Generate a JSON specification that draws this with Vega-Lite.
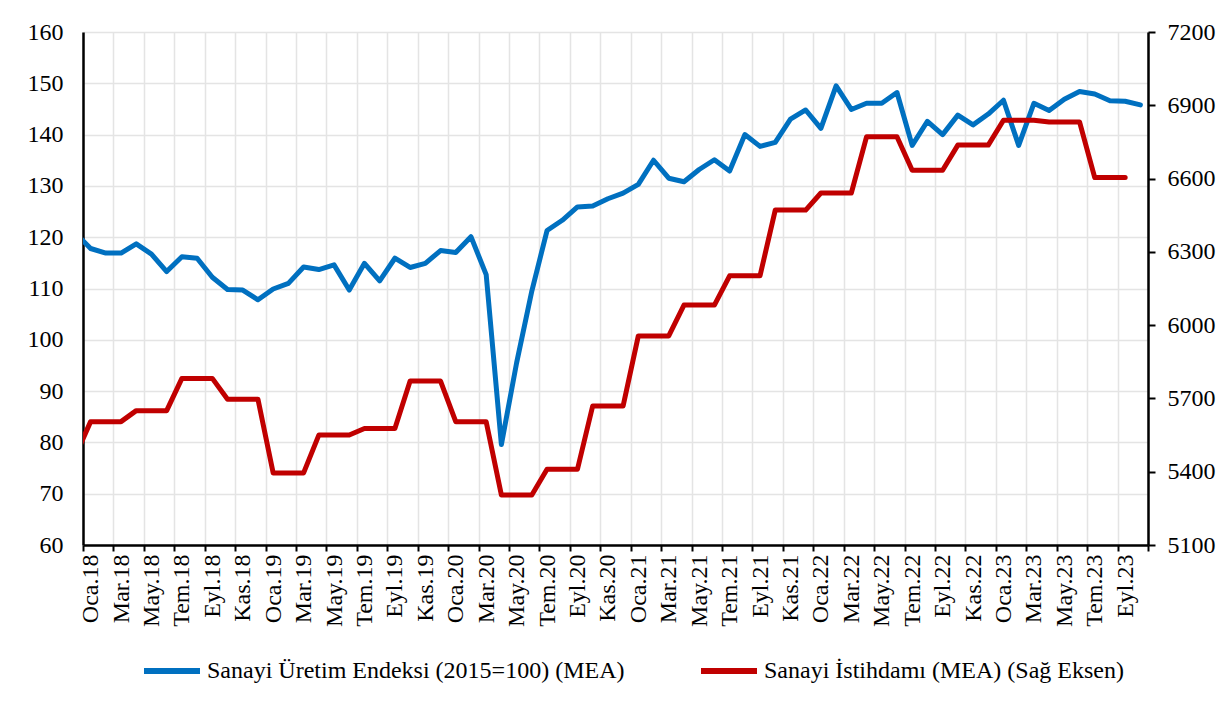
{
  "$schema": "https://vega.github.io/schema/vega-lite/v6.json",
  "autosize": {"type": "none"},
  "padding": {"left": 83, "top": 32, "right": 78, "bottom": 161},
  "width": 1065,
  "height": 513,
  "background": "white",
  "config": {
    "view": {"stroke": null},
    "font": "Liberation Serif",
    "axis": {"labelFont": "Liberation Serif", "labelFontSize": 24, "labelColor": "black", "domainColor": "black", "domainWidth": 2.5, "tickColor": "black", "tickWidth": 2, "gridColor": "#e4e4e4", "gridWidth": 1.5, "title": null},
    "legend": {"labelFont": "Liberation Serif", "labelFontSize": 24, "labelColor": "black"}
  },
  "datasets": {
    "d": [
      {"m": -1, "s": "Sanayi Üretim Endeksi (2015=100) (MEA)", "v": 120.8},
      {"m": 0, "s": "Sanayi Üretim Endeksi (2015=100) (MEA)", "v": 117.8},
      {"m": 1, "s": "Sanayi Üretim Endeksi (2015=100) (MEA)", "v": 116.9},
      {"m": 2, "s": "Sanayi Üretim Endeksi (2015=100) (MEA)", "v": 116.9},
      {"m": 3, "s": "Sanayi Üretim Endeksi (2015=100) (MEA)", "v": 118.7},
      {"m": 4, "s": "Sanayi Üretim Endeksi (2015=100) (MEA)", "v": 116.7},
      {"m": 5, "s": "Sanayi Üretim Endeksi (2015=100) (MEA)", "v": 113.3},
      {"m": 6, "s": "Sanayi Üretim Endeksi (2015=100) (MEA)", "v": 116.2},
      {"m": 7, "s": "Sanayi Üretim Endeksi (2015=100) (MEA)", "v": 115.9},
      {"m": 8, "s": "Sanayi Üretim Endeksi (2015=100) (MEA)", "v": 112.2},
      {"m": 9, "s": "Sanayi Üretim Endeksi (2015=100) (MEA)", "v": 109.8},
      {"m": 10, "s": "Sanayi Üretim Endeksi (2015=100) (MEA)", "v": 109.7},
      {"m": 11, "s": "Sanayi Üretim Endeksi (2015=100) (MEA)", "v": 107.8},
      {"m": 12, "s": "Sanayi Üretim Endeksi (2015=100) (MEA)", "v": 109.9},
      {"m": 13, "s": "Sanayi Üretim Endeksi (2015=100) (MEA)", "v": 111.0},
      {"m": 14, "s": "Sanayi Üretim Endeksi (2015=100) (MEA)", "v": 114.2},
      {"m": 15, "s": "Sanayi Üretim Endeksi (2015=100) (MEA)", "v": 113.7},
      {"m": 16, "s": "Sanayi Üretim Endeksi (2015=100) (MEA)", "v": 114.6},
      {"m": 17, "s": "Sanayi Üretim Endeksi (2015=100) (MEA)", "v": 109.7},
      {"m": 18, "s": "Sanayi Üretim Endeksi (2015=100) (MEA)", "v": 114.9},
      {"m": 19, "s": "Sanayi Üretim Endeksi (2015=100) (MEA)", "v": 111.5},
      {"m": 20, "s": "Sanayi Üretim Endeksi (2015=100) (MEA)", "v": 115.9},
      {"m": 21, "s": "Sanayi Üretim Endeksi (2015=100) (MEA)", "v": 114.1},
      {"m": 22, "s": "Sanayi Üretim Endeksi (2015=100) (MEA)", "v": 114.9},
      {"m": 23, "s": "Sanayi Üretim Endeksi (2015=100) (MEA)", "v": 117.4},
      {"m": 24, "s": "Sanayi Üretim Endeksi (2015=100) (MEA)", "v": 117.0},
      {"m": 25, "s": "Sanayi Üretim Endeksi (2015=100) (MEA)", "v": 120.1},
      {"m": 26, "s": "Sanayi Üretim Endeksi (2015=100) (MEA)", "v": 112.7},
      {"m": 27, "s": "Sanayi Üretim Endeksi (2015=100) (MEA)", "v": 79.6},
      {"m": 28, "s": "Sanayi Üretim Endeksi (2015=100) (MEA)", "v": 95.5},
      {"m": 29, "s": "Sanayi Üretim Endeksi (2015=100) (MEA)", "v": 109.5},
      {"m": 30, "s": "Sanayi Üretim Endeksi (2015=100) (MEA)", "v": 121.3},
      {"m": 31, "s": "Sanayi Üretim Endeksi (2015=100) (MEA)", "v": 123.3},
      {"m": 32, "s": "Sanayi Üretim Endeksi (2015=100) (MEA)", "v": 125.9},
      {"m": 33, "s": "Sanayi Üretim Endeksi (2015=100) (MEA)", "v": 126.1},
      {"m": 34, "s": "Sanayi Üretim Endeksi (2015=100) (MEA)", "v": 127.5},
      {"m": 35, "s": "Sanayi Üretim Endeksi (2015=100) (MEA)", "v": 128.6},
      {"m": 36, "s": "Sanayi Üretim Endeksi (2015=100) (MEA)", "v": 130.3},
      {"m": 37, "s": "Sanayi Üretim Endeksi (2015=100) (MEA)", "v": 135.0},
      {"m": 38, "s": "Sanayi Üretim Endeksi (2015=100) (MEA)", "v": 131.5},
      {"m": 39, "s": "Sanayi Üretim Endeksi (2015=100) (MEA)", "v": 130.8},
      {"m": 40, "s": "Sanayi Üretim Endeksi (2015=100) (MEA)", "v": 133.2},
      {"m": 41, "s": "Sanayi Üretim Endeksi (2015=100) (MEA)", "v": 135.1},
      {"m": 42, "s": "Sanayi Üretim Endeksi (2015=100) (MEA)", "v": 132.9},
      {"m": 43, "s": "Sanayi Üretim Endeksi (2015=100) (MEA)", "v": 140.0},
      {"m": 44, "s": "Sanayi Üretim Endeksi (2015=100) (MEA)", "v": 137.7},
      {"m": 45, "s": "Sanayi Üretim Endeksi (2015=100) (MEA)", "v": 138.5},
      {"m": 46, "s": "Sanayi Üretim Endeksi (2015=100) (MEA)", "v": 143.0},
      {"m": 47, "s": "Sanayi Üretim Endeksi (2015=100) (MEA)", "v": 144.8},
      {"m": 48, "s": "Sanayi Üretim Endeksi (2015=100) (MEA)", "v": 141.2},
      {"m": 49, "s": "Sanayi Üretim Endeksi (2015=100) (MEA)", "v": 149.5},
      {"m": 50, "s": "Sanayi Üretim Endeksi (2015=100) (MEA)", "v": 144.9},
      {"m": 51, "s": "Sanayi Üretim Endeksi (2015=100) (MEA)", "v": 146.1},
      {"m": 52, "s": "Sanayi Üretim Endeksi (2015=100) (MEA)", "v": 146.1},
      {"m": 53, "s": "Sanayi Üretim Endeksi (2015=100) (MEA)", "v": 148.2},
      {"m": 54, "s": "Sanayi Üretim Endeksi (2015=100) (MEA)", "v": 137.9},
      {"m": 55, "s": "Sanayi Üretim Endeksi (2015=100) (MEA)", "v": 142.6},
      {"m": 56, "s": "Sanayi Üretim Endeksi (2015=100) (MEA)", "v": 140.0},
      {"m": 57, "s": "Sanayi Üretim Endeksi (2015=100) (MEA)", "v": 143.8},
      {"m": 58, "s": "Sanayi Üretim Endeksi (2015=100) (MEA)", "v": 141.9},
      {"m": 59, "s": "Sanayi Üretim Endeksi (2015=100) (MEA)", "v": 144.0},
      {"m": 60, "s": "Sanayi Üretim Endeksi (2015=100) (MEA)", "v": 146.7},
      {"m": 61, "s": "Sanayi Üretim Endeksi (2015=100) (MEA)", "v": 137.9},
      {"m": 62, "s": "Sanayi Üretim Endeksi (2015=100) (MEA)", "v": 146.1},
      {"m": 63, "s": "Sanayi Üretim Endeksi (2015=100) (MEA)", "v": 144.7},
      {"m": 64, "s": "Sanayi Üretim Endeksi (2015=100) (MEA)", "v": 146.9},
      {"m": 65, "s": "Sanayi Üretim Endeksi (2015=100) (MEA)", "v": 148.4},
      {"m": 66, "s": "Sanayi Üretim Endeksi (2015=100) (MEA)", "v": 147.9},
      {"m": 67, "s": "Sanayi Üretim Endeksi (2015=100) (MEA)", "v": 146.6},
      {"m": 68, "s": "Sanayi Üretim Endeksi (2015=100) (MEA)", "v": 146.5},
      {"m": 69, "s": "Sanayi Üretim Endeksi (2015=100) (MEA)", "v": 145.8},
      {"m": -1, "s": "Sanayi İstihdamı (MEA) (Sağ Eksen)", "v": 5465},
      {"m": 0, "s": "Sanayi İstihdamı (MEA) (Sağ Eksen)", "v": 5605},
      {"m": 1, "s": "Sanayi İstihdamı (MEA) (Sağ Eksen)", "v": 5605},
      {"m": 2, "s": "Sanayi İstihdamı (MEA) (Sağ Eksen)", "v": 5605},
      {"m": 3, "s": "Sanayi İstihdamı (MEA) (Sağ Eksen)", "v": 5650},
      {"m": 4, "s": "Sanayi İstihdamı (MEA) (Sağ Eksen)", "v": 5650},
      {"m": 5, "s": "Sanayi İstihdamı (MEA) (Sağ Eksen)", "v": 5650},
      {"m": 6, "s": "Sanayi İstihdamı (MEA) (Sağ Eksen)", "v": 5782},
      {"m": 7, "s": "Sanayi İstihdamı (MEA) (Sağ Eksen)", "v": 5782},
      {"m": 8, "s": "Sanayi İstihdamı (MEA) (Sağ Eksen)", "v": 5782},
      {"m": 9, "s": "Sanayi İstihdamı (MEA) (Sağ Eksen)", "v": 5697},
      {"m": 10, "s": "Sanayi İstihdamı (MEA) (Sağ Eksen)", "v": 5697},
      {"m": 11, "s": "Sanayi İstihdamı (MEA) (Sağ Eksen)", "v": 5697},
      {"m": 12, "s": "Sanayi İstihdamı (MEA) (Sağ Eksen)", "v": 5395},
      {"m": 13, "s": "Sanayi İstihdamı (MEA) (Sağ Eksen)", "v": 5395},
      {"m": 14, "s": "Sanayi İstihdamı (MEA) (Sağ Eksen)", "v": 5395},
      {"m": 15, "s": "Sanayi İstihdamı (MEA) (Sağ Eksen)", "v": 5550},
      {"m": 16, "s": "Sanayi İstihdamı (MEA) (Sağ Eksen)", "v": 5550},
      {"m": 17, "s": "Sanayi İstihdamı (MEA) (Sağ Eksen)", "v": 5550},
      {"m": 18, "s": "Sanayi İstihdamı (MEA) (Sağ Eksen)", "v": 5577},
      {"m": 19, "s": "Sanayi İstihdamı (MEA) (Sağ Eksen)", "v": 5577},
      {"m": 20, "s": "Sanayi İstihdamı (MEA) (Sağ Eksen)", "v": 5577},
      {"m": 21, "s": "Sanayi İstihdamı (MEA) (Sağ Eksen)", "v": 5771},
      {"m": 22, "s": "Sanayi İstihdamı (MEA) (Sağ Eksen)", "v": 5771},
      {"m": 23, "s": "Sanayi İstihdamı (MEA) (Sağ Eksen)", "v": 5771},
      {"m": 24, "s": "Sanayi İstihdamı (MEA) (Sağ Eksen)", "v": 5605},
      {"m": 25, "s": "Sanayi İstihdamı (MEA) (Sağ Eksen)", "v": 5605},
      {"m": 26, "s": "Sanayi İstihdamı (MEA) (Sağ Eksen)", "v": 5605},
      {"m": 27, "s": "Sanayi İstihdamı (MEA) (Sağ Eksen)", "v": 5305},
      {"m": 28, "s": "Sanayi İstihdamı (MEA) (Sağ Eksen)", "v": 5305},
      {"m": 29, "s": "Sanayi İstihdamı (MEA) (Sağ Eksen)", "v": 5305},
      {"m": 30, "s": "Sanayi İstihdamı (MEA) (Sağ Eksen)", "v": 5410},
      {"m": 31, "s": "Sanayi İstihdamı (MEA) (Sağ Eksen)", "v": 5410},
      {"m": 32, "s": "Sanayi İstihdamı (MEA) (Sağ Eksen)", "v": 5410},
      {"m": 33, "s": "Sanayi İstihdamı (MEA) (Sağ Eksen)", "v": 5669},
      {"m": 34, "s": "Sanayi İstihdamı (MEA) (Sağ Eksen)", "v": 5669},
      {"m": 35, "s": "Sanayi İstihdamı (MEA) (Sağ Eksen)", "v": 5669},
      {"m": 36, "s": "Sanayi İstihdamı (MEA) (Sağ Eksen)", "v": 5956},
      {"m": 37, "s": "Sanayi İstihdamı (MEA) (Sağ Eksen)", "v": 5956},
      {"m": 38, "s": "Sanayi İstihdamı (MEA) (Sağ Eksen)", "v": 5956},
      {"m": 39, "s": "Sanayi İstihdamı (MEA) (Sağ Eksen)", "v": 6082},
      {"m": 40, "s": "Sanayi İstihdamı (MEA) (Sağ Eksen)", "v": 6082},
      {"m": 41, "s": "Sanayi İstihdamı (MEA) (Sağ Eksen)", "v": 6082},
      {"m": 42, "s": "Sanayi İstihdamı (MEA) (Sağ Eksen)", "v": 6202},
      {"m": 43, "s": "Sanayi İstihdamı (MEA) (Sağ Eksen)", "v": 6202},
      {"m": 44, "s": "Sanayi İstihdamı (MEA) (Sağ Eksen)", "v": 6202},
      {"m": 45, "s": "Sanayi İstihdamı (MEA) (Sağ Eksen)", "v": 6471},
      {"m": 46, "s": "Sanayi İstihdamı (MEA) (Sağ Eksen)", "v": 6471},
      {"m": 47, "s": "Sanayi İstihdamı (MEA) (Sağ Eksen)", "v": 6471},
      {"m": 48, "s": "Sanayi İstihdamı (MEA) (Sağ Eksen)", "v": 6541},
      {"m": 49, "s": "Sanayi İstihdamı (MEA) (Sağ Eksen)", "v": 6541},
      {"m": 50, "s": "Sanayi İstihdamı (MEA) (Sağ Eksen)", "v": 6541},
      {"m": 51, "s": "Sanayi İstihdamı (MEA) (Sağ Eksen)", "v": 6771},
      {"m": 52, "s": "Sanayi İstihdamı (MEA) (Sağ Eksen)", "v": 6771},
      {"m": 53, "s": "Sanayi İstihdamı (MEA) (Sağ Eksen)", "v": 6771},
      {"m": 54, "s": "Sanayi İstihdamı (MEA) (Sağ Eksen)", "v": 6634},
      {"m": 55, "s": "Sanayi İstihdamı (MEA) (Sağ Eksen)", "v": 6634},
      {"m": 56, "s": "Sanayi İstihdamı (MEA) (Sağ Eksen)", "v": 6634},
      {"m": 57, "s": "Sanayi İstihdamı (MEA) (Sağ Eksen)", "v": 6737},
      {"m": 58, "s": "Sanayi İstihdamı (MEA) (Sağ Eksen)", "v": 6737},
      {"m": 59, "s": "Sanayi İstihdamı (MEA) (Sağ Eksen)", "v": 6737},
      {"m": 60, "s": "Sanayi İstihdamı (MEA) (Sağ Eksen)", "v": 6839},
      {"m": 61, "s": "Sanayi İstihdamı (MEA) (Sağ Eksen)", "v": 6839},
      {"m": 62, "s": "Sanayi İstihdamı (MEA) (Sağ Eksen)", "v": 6839},
      {"m": 63, "s": "Sanayi İstihdamı (MEA) (Sağ Eksen)", "v": 6832},
      {"m": 64, "s": "Sanayi İstihdamı (MEA) (Sağ Eksen)", "v": 6832},
      {"m": 65, "s": "Sanayi İstihdamı (MEA) (Sağ Eksen)", "v": 6832},
      {"m": 66, "s": "Sanayi İstihdamı (MEA) (Sağ Eksen)", "v": 6604},
      {"m": 67, "s": "Sanayi İstihdamı (MEA) (Sağ Eksen)", "v": 6604},
      {"m": 68, "s": "Sanayi İstihdamı (MEA) (Sağ Eksen)", "v": 6604}
    ]
  },
  "data": {"name": "d"},
  "encoding": {
    "x": {
      "field": "m", "type": "quantitative",
      "scale": {"domain": [-0.5, 69.5], "nice": false, "zero": false},
      "axis": {
        "values": [-0.5, 1.5, 3.5, 5.5, 7.5, 9.5, 11.5, 13.5, 15.5, 17.5, 19.5, 21.5, 23.5, 25.5, 27.5, 29.5, 31.5, 33.5, 35.5, 37.5, 39.5, 41.5, 43.5, 45.5, 47.5, 49.5, 51.5, 53.5, 55.5, 57.5, 59.5, 61.5, 63.5, 65.5, 67.5, 69.5],
        "labelExpr": "datum.value > 68 ? '' : ['Oca','Şub','Mar','Nis','May','Haz','Tem','Ağu','Eyl','Eki','Kas','Ara'][(datum.value + 0.5) % 12] + '.' + (18 + floor((datum.value + 0.5) / 12))",
        "labelAngle": -90,
        "labelOffset": 7.6,
        "labelPadding": 3,
        "labelOverlap": false,
        "labelFlush": false,
        "labelBound": false,
        "tickSize": 6,
        "grid": true
      }
    },
    "color": {
      "field": "s", "type": "nominal",
      "scale": {"domain": ["Sanayi Üretim Endeksi (2015=100) (MEA)", "Sanayi İstihdamı (MEA) (Sağ Eksen)"], "range": ["#0070C0", "#C00000"]},
      "legend": {
        "title": null,
        "orient": "none",
        "direction": "horizontal",
        "legendX": 58,
        "legendY": 608,
        "symbolType": "stroke",
        "symbolSize": 3136,
        "symbolStrokeWidth": 6,
        "labelOffset": 4,
        "columnPadding": 64,
        "labelLimit": 600,
        "labelFont": "Liberation Serif",
        "labelFontSize": 24,
        "labelColor": "black",
        "encode": {"labels": {"update": {"font": {"value": "Liberation Serif"}, "fontSize": {"value": 24}}}}
      }
    }
  },
  "layer": [
    {
      "transform": [{"filter": "datum.s == 'Sanayi Üretim Endeksi (2015=100) (MEA)'"}],
      "mark": {"type": "line", "strokeWidth": 5, "strokeJoin": "round", "strokeCap": "round", "clip": true},
      "encoding": {
        "y": {
          "field": "v", "type": "quantitative",
          "scale": {"domain": [60, 160], "nice": false, "zero": false},
          "axis": {"orient": "left", "values": [60, 70, 80, 90, 100, 110, 120, 130, 140, 150, 160], "ticks": false, "labelPadding": 20, "grid": true}
        }
      }
    },
    {
      "transform": [{"filter": "datum.s == 'Sanayi İstihdamı (MEA) (Sağ Eksen)'"}],
      "mark": {"type": "line", "strokeWidth": 5, "strokeJoin": "round", "strokeCap": "round", "clip": true},
      "encoding": {
        "y": {
          "field": "v", "type": "quantitative",
          "scale": {"domain": [5100, 7200], "nice": false, "zero": false},
          "axis": {"orient": "right", "format": "d", "values": [5100, 5400, 5700, 6000, 6300, 6600, 6900, 7200], "tickSize": 7, "labelPadding": 12, "grid": false}
        }
      }
    }
  ],
  "resolve": {"scale": {"y": "independent"}}
}
